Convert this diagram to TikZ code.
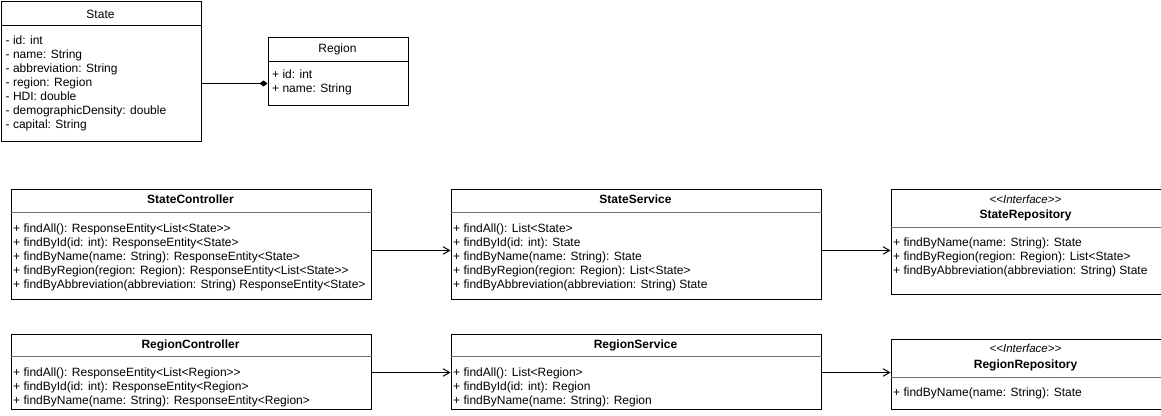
\documentclass[tikz,border=0pt]{standalone}
\usepackage{fontspec}
\setmainfont{Liberation Sans}[Ligatures=TeXOff]
\usetikzlibrary{arrows.meta}
\begin{document}
\begin{tikzpicture}[x=1pt,y=-1pt,
  box/.style={draw, line width=1pt, inner sep=0pt, anchor=north west},
  div/.style={line width=1pt, draw=black!55},
  divb/.style={line width=1pt, draw=black},
  mem/.style={anchor=base west, inner sep=0pt, font=\fontsize{12}{14}\selectfont},
  ttl/.style={anchor=base, inner sep=0pt, font=\bfseries\fontsize{12}{14}\selectfont},
  ttlr/.style={anchor=base, inner sep=0pt, font=\fontsize{12}{14}\selectfont},
  ster/.style={anchor=base, inner sep=0pt, font=\itshape\fontsize{11.5}{14}\selectfont},
  dep/.style={line width=1pt, -{Straight Barb[length=6.5pt,width=7.5pt,line width=1pt]}},
  comp/.style={line width=1pt, -{Diamond[length=8pt,width=6pt]}}
]
\useasboundingbox (0,0) rectangle (1161,415);

% boxes
\node[box, minimum width=200pt, minimum height=140pt] (st) at (0.5,0.5) {};
\node[box, minimum width=140pt, minimum height=68pt] (rg) at (267.5,36.5) {};
\node[box, minimum width=360pt, minimum height=110pt] (sc) at (10.5,188.5) {};
\node[box, minimum width=370pt, minimum height=110pt] (ss) at (450.5,188.5) {};
\node[box, minimum width=270pt, minimum height=105pt] (sr) at (890.5,188.5) {};
\node[box, minimum width=360pt, minimum height=75pt] (rc) at (10.5,333.5) {};
\node[box, minimum width=370pt, minimum height=75pt] (rs) at (450.5,333.5) {};
\node[box, minimum width=270pt, minimum height=70pt] (rr) at (890.5,338.5) {};

% dividers
\draw[divb] (st.west |- 0,25.5) -- (st.east |- 0,25.5);
\draw[divb] (rg.west |- 0,61.5) -- (rg.east |- 0,61.5);
\draw[div] (sc.west |- 0,212.5) -- (sc.east |- 0,212.5);
\draw[div] (ss.west |- 0,212.5) -- (ss.east |- 0,212.5);
\draw[div] (sr.west |- 0,227.5) -- (sr.east |- 0,227.5);
\draw[div] (rc.west |- 0,356.5) -- (rc.east |- 0,356.5);
\draw[div] (rs.west |- 0,356.5) -- (rs.east |- 0,356.5);
\draw[div] (rr.west |- 0,377.5) -- (rr.east |- 0,377.5);

% titles
\node[ttlr] (st-t) at (100.5,18.5) {State};
\node[ttlr] (rg-t) at (337.5,52.5) {Region};
\node[ttl] (sc-t) at (190.5,203.5) {StateController};
\node[ttl] (ss-t) at (635.5,203.5) {StateService};
\node[ster] (sr-s) at (1025.5,203.5) {<<Interface>>};
\node[ttl] (sr-t) at (1025.5,218.5) {StateRepository};
\node[ttl] (rc-t) at (190.5,348.5) {RegionController};
\node[ttl] (rs-t) at (635.5,348.5) {RegionService};
\node[ster] (rr-s) at (1025.5,352.5) {<<Interface>>};
\node[ttl] (rr-t) at (1025.5,368) {RegionRepository};

% members
\foreach \t [count=\i] in {- id: int, - name: String, - abbreviation: String, - region: Region, - HDI: double, - demographicDensity: double, - capital: String}
  \node[mem] (st-m\i) at (5.5,30+14*\i) {\t};
\foreach \t [count=\i] in {+ id: int, + name: String}
  \node[mem] (rg-m\i) at (272,64.5+14*\i) {\t};
\foreach \t [count=\i] in {+ findAll(): ResponseEntity<List<State>>, + findById(id: int): ResponseEntity<State>, + findByName(name: String): ResponseEntity<State>, + findByRegion(region: Region): ResponseEntity<List<State>>, + findByAbbreviation(abbreviation: String) ResponseEntity<State>}
  \node[mem] (sc-m\i) at (13,218+14*\i) {\t};
\foreach \t [count=\i] in {+ findAll(): List<State>, + findById(id: int): State, + findByName(name: String): State, + findByRegion(region: Region): List<State>, + findByAbbreviation(abbreviation: String) State}
  \node[mem] (ss-m\i) at (453,218+14*\i) {\t};
\foreach \t [count=\i] in {+ findByName(name: String): State, + findByRegion(region: Region): List<State>, + findByAbbreviation(abbreviation: String) State}
  \node[mem] (sr-m\i) at (893,232+14*\i) {\t};
\foreach \t [count=\i] in {+ findAll(): ResponseEntity<List<Region>>, + findById(id: int): ResponseEntity<Region>, + findByName(name: String): ResponseEntity<Region>}
  \node[mem] (rc-m\i) at (13,362.5+14*\i) {\t};
\foreach \t [count=\i] in {+ findAll(): List<Region>, + findById(id: int): Region, + findByName(name: String): Region}
  \node[mem] (rs-m\i) at (453,362.5+14*\i) {\t};
\node[mem] (rr-m1) at (893,396.5) {+ findByName(name: String): State};

% connectors
\draw[comp] (st.east |- 0,83.5) -- (rg.west |- 0,83.5);
\draw[dep] (sc.east |- 0,250.5) -- (ss.west |- 0,250.5);
\draw[dep] (ss.east |- 0,250.5) -- (sr.west |- 0,250.5);
\draw[dep] (rc.east |- 0,372.5) -- (rs.west |- 0,372.5);
\draw[dep] (rs.east |- 0,372.5) -- (rr.west |- 0,372.5);
\end{tikzpicture}
\end{document}
